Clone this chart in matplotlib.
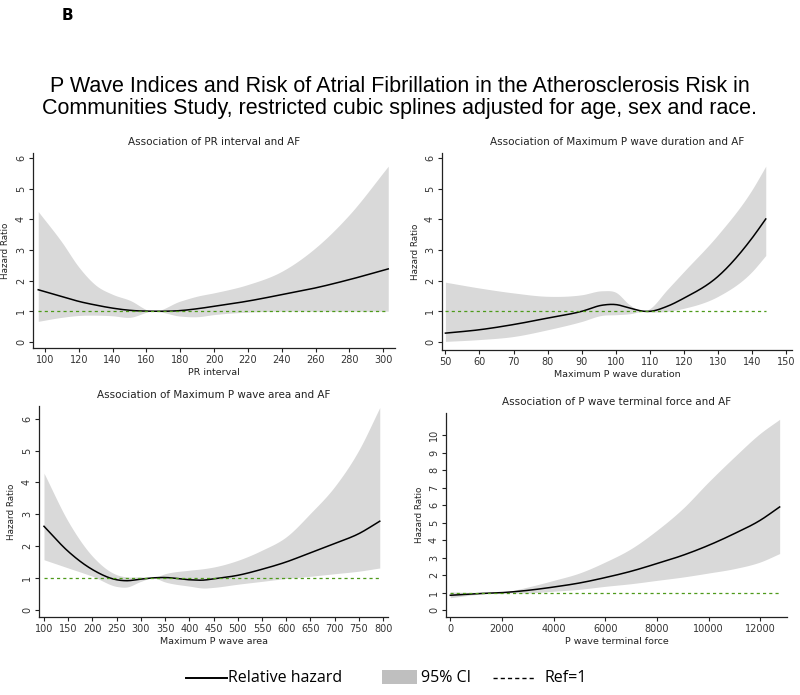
import matplotlib
matplotlib.use("Agg")
import matplotlib.pyplot as plt
import numpy as np
from matplotlib import font_manager
from matplotlib.lines import Line2D
from matplotlib.patches import Rectangle

# PR interval
pr_x = [96, 110, 120, 130, 140, 150, 163, 180, 190, 200, 220, 240, 260, 280, 303]
pr_hr = [1.70, 1.48, 1.32, 1.2, 1.1, 1.03, 1.0, 1.02, 1.08, 1.16, 1.33, 1.54, 1.76, 2.03, 2.38]
pr_lo = [0.67, 0.8, 0.86, 0.87, 0.85, 0.8, 1.0, 0.84, 0.82, 0.89, 0.97, 1.0, 1.0, 1.0, 1.0]
pr_hi = [4.25, 3.25, 2.44, 1.85, 1.55, 1.36, 1.0, 1.33, 1.49, 1.6, 1.87, 2.3, 3.07, 4.15, 5.73]

# Maximum P wave duration
dur_x = [50, 60, 70, 80, 90, 96, 100, 104, 108.5, 110, 115, 120, 130, 140, 144]
dur_hr = [0.29, 0.4, 0.57, 0.78, 1.0, 1.2, 1.22, 1.11, 1.0, 1.0, 1.16, 1.43, 2.14, 3.39, 4.01]
dur_lo = [0.02, 0.08, 0.18, 0.4, 0.67, 0.87, 0.89, 0.92, 1.0, 0.98, 1.0, 1.1, 1.49, 2.3, 2.82]
dur_hi = [1.95, 1.76, 1.6, 1.49, 1.54, 1.67, 1.62, 1.22, 1.0, 1.09, 1.7, 2.3, 3.5, 4.97, 5.73]

# Maximum P wave area
area_x = [100, 150, 200, 250, 270, 300, 325, 350, 400, 430, 450, 500, 550, 600, 650, 700, 750, 793]
area_hr = [2.62, 1.83, 1.26, 0.94, 0.91, 0.96, 1.0, 1.01, 0.94, 0.93, 0.97, 1.08, 1.27, 1.5, 1.79, 2.08, 2.39, 2.78]
area_lo = [1.57, 1.31, 1.05, 0.73, 0.71, 0.89, 1.0, 0.87, 0.74, 0.68, 0.7, 0.8, 0.89, 0.98, 1.05, 1.13, 1.21, 1.31]
area_hi = [4.29, 2.77, 1.68, 1.1, 1.03, 1.03, 1.0, 1.13, 1.24, 1.29, 1.34, 1.55, 1.87, 2.29, 3.03, 3.87, 5.02, 6.35]

# P wave terminal force
ptf_x = [0, 1000, 2000, 3000, 4000, 5000, 6000, 7000, 8000, 9000, 10000, 11000, 12000, 12750]
ptf_hr = [0.86, 0.95, 1.01, 1.14, 1.33, 1.56, 1.87, 2.23, 2.67, 3.14, 3.71, 4.38, 5.14, 5.9]
ptf_lo = [0.72, 0.9, 1.0, 0.99, 1.09, 1.2, 1.37, 1.52, 1.71, 1.9, 2.13, 2.38, 2.76, 3.24]
ptf_hi = [1.05, 1.02, 1.03, 1.33, 1.71, 2.13, 2.76, 3.52, 4.57, 5.81, 7.33, 8.76, 10.1, 10.9]

legend_labels = ["Relative hazard", "95% CI", "Ref=1"]

W, H = 800, 695
fig = plt.figure(figsize=(W / 100, H / 100), dpi=100)

def box(l, r, b, t):
    return [l / W, 1 - b / H, (r - l) / W, (b - t) / H]

def smooth(x, y, n=300):
    # cubic Hermite through the read points
    x = np.asarray(x, float)
    y = np.asarray(y, float)
    xs = np.linspace(x[0], x[-1], n)
    m = np.gradient(y, x)
    i = np.clip(np.searchsorted(x, xs) - 1, 0, len(x) - 2)
    h = x[i + 1] - x[i]
    t = (xs - x[i]) / h
    ys = ((2 * t**3 - 3 * t**2 + 1) * y[i] + (t**3 - 2 * t**2 + t) * h * m[i]
          + (-2 * t**3 + 3 * t**2) * y[i + 1] + (t**3 - t**2) * h * m[i + 1])
    return xs, ys

panels = [
    dict(x=pr_x, hr=pr_hr, lo=pr_lo, hi=pr_hi, pos=box(33, 395, 348, 153),
         xlim=(92.9, 307), ylim=(-0.2, 6.16), xt=range(100, 301, 20), yt=range(0, 7),
         title="Association of PR interval and AF", xlabel="PR interval"),
    dict(x=dur_x, hr=dur_hr, lo=dur_lo, hi=dur_hi, pos=box(442, 792, 350, 153),
         xlim=(49, 151.7), ylim=(-0.26, 6.16), xt=range(50, 151, 10), yt=range(0, 7),
         title="Association of Maximum P wave duration and AF", xlabel="Maximum P wave duration"),
    dict(x=area_x, hr=area_hr, lo=area_lo, hi=area_hi, pos=box(39, 388, 617, 406),
         xlim=(89.7, 810), ylim=(-0.23, 6.4), xt=range(100, 801, 50), yt=range(0, 7),
         title="Association of Maximum P wave area and AF", xlabel="Maximum P wave area"),
    dict(x=ptf_x, hr=ptf_hr, lo=ptf_lo, hi=ptf_hi, pos=box(446, 787, 617, 413),
         xlim=(-166, 13035), ylim=(-0.38, 11.26), xt=range(0, 12001, 2000), yt=range(0, 11),
         title="Association of P wave terminal force and AF", xlabel="P wave terminal force"),
]

for p in panels:
    ax = fig.add_axes(p["pos"])
    xs, lo = smooth(p["x"], p["lo"])
    _, hi = smooth(p["x"], p["hi"])
    _, hr = smooth(p["x"], p["hr"])
    ax.fill_between(xs, lo, hi, color="#d9d9d9", lw=0)
    ax.plot(xs, hr, color="black", lw=1.1)
    ax.plot([xs[0], xs[-1]], [1, 1], color="#4e9a1a", lw=0.9, ls=(0, (2.5, 2.5)))
    ax.set_xlim(*p["xlim"])
    ax.set_ylim(*p["ylim"])
    ax.set_xticks(list(p["xt"]))
    ax.set_yticks(list(p["yt"]))
    for s in ("top", "right"):
        ax.spines[s].set_visible(False)
    for s in ("left", "bottom"):
        ax.spines[s].set_color("#222222")
        ax.spines[s].set_linewidth(0.9)
    ax.tick_params(axis="both", length=3, width=0.8, colors="#222222",
                   labelsize=7, labelcolor="#333333", pad=2)
    for lab in ax.get_yticklabels():
        lab.set_rotation(90)
        lab.set_va("center")
    ax.set_title(p["title"], fontsize=7.5, color="#222222", pad=6)
    ax.set_xlabel(p["xlabel"], fontsize=6.8, color="#222222", labelpad=2)
    ax.set_ylabel("Hazard Ratio", fontsize=6.3, color="#222222", labelpad=4)

fig.text(67 / W, 1 - 15 / H, "B", fontsize=11, fontweight="bold", va="center", ha="center")

try:
    font_manager.findfont("Liberation Sans Narrow", fallback_to_default=False)
    title_font, title_size = "Liberation Sans Narrow", 17
except ValueError:
    title_font, title_size = "Liberation Sans", 15.5
fig.text(0.5, 1 - 97.5 / H,
         "P Wave Indices and Risk of Atrial Fibrillation in the Atherosclerosis Risk in\n"
         "Communities Study, restricted cubic splines adjusted for age, sex and race.",
         ha="center", va="center", fontsize=title_size, family=[title_font, "DejaVu Sans"],
         linespacing=1.12)

# legend drawn in pixel positions along the bottom
ly = 1 - 678 / H
lprop = dict(fontsize=11.5, family=["Open Sans", "DejaVu Sans"], va="center", ha="left")
fig.add_artist(Line2D([186 / W, 227 / W], [ly, ly], color="black", lw=1.4))
fig.text(228 / W, ly, legend_labels[0], **lprop)
fig.add_artist(Rectangle((382 / W, 1 - 684 / H), 35 / W, 14 / H, facecolor="#bfbfbf",
                         edgecolor="none", transform=fig.transFigure))
fig.text(421 / W, ly, legend_labels[1], **lprop)
fig.add_artist(Line2D([493 / W, 535 / W], [ly, ly], color="black", lw=1.0, ls=(0, (3, 2.2))))
fig.text(545 / W, ly, legend_labels[2], **lprop)

fig.savefig("out.png", dpi=100)
